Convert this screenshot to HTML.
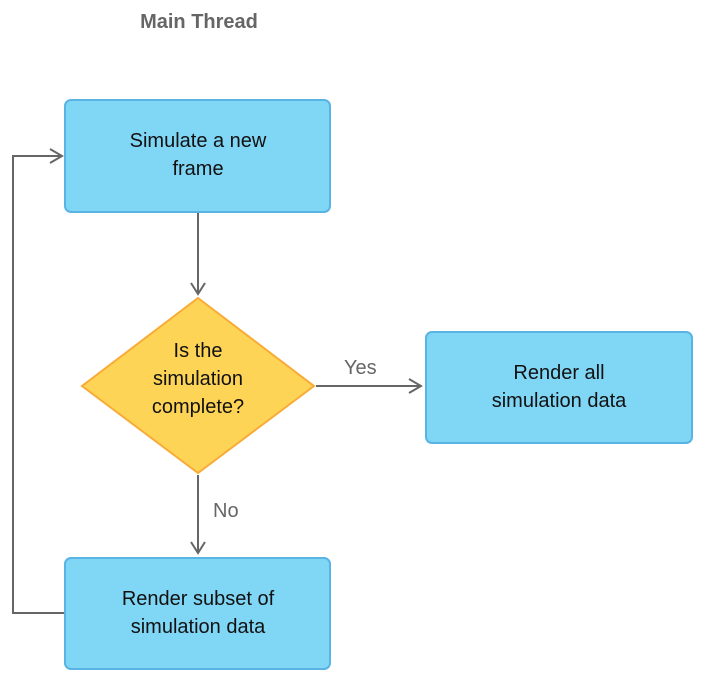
<!DOCTYPE html>
<html><head><style>
body{margin:0;width:705px;height:683px;background:#fff;overflow:hidden}
svg text{font-family:"Liberation Sans",sans-serif}
</style></head><body>
<svg width="705" height="683" viewBox="0 0 705 683" xmlns="http://www.w3.org/2000/svg">
<text x="199" y="28" font-size="20" font-weight="bold" fill="#666" text-anchor="middle">Main Thread</text>
<g stroke="#666" stroke-width="2" fill="none">
<line x1="198" y1="212" x2="198" y2="294"/>
<polyline points="191,283 198,294 205,283"/>
<polyline points="65,613 13,613 13,156 62,156"/>
<polyline points="50,149 62,156 50,163"/>
<line x1="316" y1="386" x2="421" y2="386"/>
<polyline points="409,379 421,386 409,393"/>
<line x1="198" y1="475" x2="198" y2="553"/>
<polyline points="191,542 198,553 205,542"/>
</g>
<rect x="65" y="100" width="265" height="112" rx="6" fill="#80d6f5" stroke="#5ab4e3" stroke-width="2"/>
<rect x="426" y="332" width="266" height="111" rx="6" fill="#80d6f5" stroke="#5ab4e3" stroke-width="2"/>
<rect x="65" y="558" width="265" height="111" rx="6" fill="#80d6f5" stroke="#5ab4e3" stroke-width="2"/>
<polygon points="198,298 314,386 198,473 82,386" fill="#fed456" stroke="#f9ab38" stroke-width="2"/>
<g font-size="20" fill="#111" text-anchor="middle">
<text x="198" y="147">Simulate a new</text>
<text x="198" y="175">frame</text>
<text x="559" y="379">Render all</text>
<text x="559" y="407">simulation data</text>
<text x="198" y="605">Render subset of</text>
<text x="198" y="633">simulation data</text>
<text x="198" y="357">Is the</text>
<text x="198" y="385">simulation</text>
<text x="198" y="413">complete?</text>
</g>
<g font-size="20" fill="#666">
<text x="344" y="374">Yes</text>
<text x="213" y="517">No</text>
</g>
</svg>
</body></html>
